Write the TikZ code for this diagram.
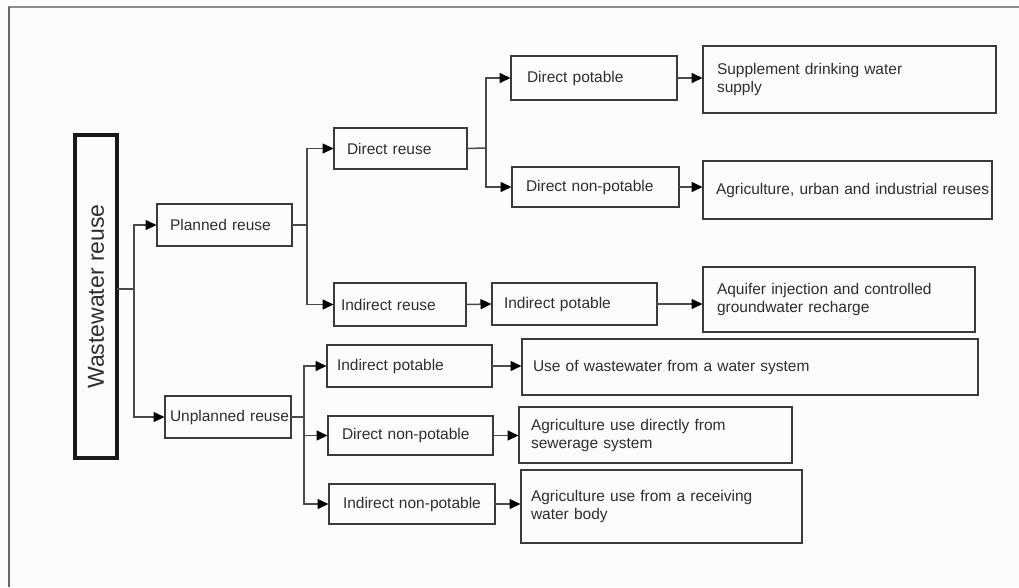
\documentclass[tikz,border=0pt]{standalone}
\usepackage{fontspec}
\setmainfont{Liberation Sans}
\usetikzlibrary{arrows.meta}

\definecolor{ink}{HTML}{2E2E2E}
\definecolor{edge}{HTML}{3A3A3A}
\definecolor{wire}{HTML}{4A4A4A}
\definecolor{paper}{HTML}{FCFCFA}

% a box given by its corners (x1,y1)-(x2,y2) and a left text padding
\newcommand\flowbox[7]{%
  \pgfmathsetmacro\flowboxW{#4-#2-2*#6}%
  \pgfmathsetmacro\flowboxH{#5-#3}%
  \node[box, anchor=north west, text width=\flowboxW pt, inner xsep=#6pt,
        minimum height=\flowboxH pt] (#1) at (#2,#3) {#7};}

\begin{document}
\begin{tikzpicture}[x=1pt, y=-1pt,
  box/.style={draw=edge, line width=1.8pt, inner ysep=0pt, outer sep=0pt,
              align=left, text=ink,
              font=\fontsize{15.5}{18}\selectfont},
  bigbox/.style={draw=black!90, line width=3.4pt, inner sep=0pt, outer sep=0pt,
                 text=ink, font=\fontsize{23}{26}\selectfont},
  wire/.style={draw=wire, line width=1.5pt},
  arr/.style={wire, -{Triangle[length=11pt, width=10pt, color=black]}, shorten >=0.5pt},
]
\useasboundingbox (0,0) rectangle (1019,587);
\fill[paper] (0,0) rectangle (1019,587);

% page frame
\draw[draw=black!45, line width=1.4pt] (8,7) -- (1019,7);
\draw[draw=black!60, line width=2pt] (9,7) -- (9,587);

% root
\node[bigbox, rotate=90, minimum width=323pt, minimum height=42pt] (ww) at (96,296.5) {Wastewater reuse};

% second level
\flowbox{pr}{157}{204}{292}{246}{13}{Planned reuse}
\flowbox{ur}{165}{396}{291}{438}{5}{\mbox{Unplanned reuse}}

% planned branch
\flowbox{dr}{334}{128}{467}{169}{13}{Direct reuse}
\flowbox{ir}{334}{283}{466}{326}{7}{Indirect reuse}
\flowbox{dp}{511}{56}{677}{100}{16}{Direct potable}
\flowbox{dn}{512}{167}{679}{207}{14}{Direct non-potable}
\flowbox{ip}{492}{283}{657}{325}{12}{Indirect potable}
\flowbox{sd}{703}{46}{996}{113}{14}{Supplement drinking water\\supply}
\flowbox{au}{703}{161}{992}{219}{13}{\mbox{Agriculture, urban and industrial reuses}}
\flowbox{aq}{703}{267}{975}{332}{14}{Aquifer injection and controlled\\groundwater recharge}

% unplanned branch
\flowbox{up}{327}{345}{492}{387}{10}{Indirect potable}
\flowbox{un}{328}{416}{493}{455}{14}{Direct non-potable}
\flowbox{in}{329}{484}{495}{524}{14}{Indirect non-potable}
\flowbox{uw}{522}{339}{978}{395}{11}{Use of wastewater from a water system}
\flowbox{ad}{519}{407}{792}{463}{12}{Agriculture use directly from\\sewerage system}
\flowbox{ar}{521}{470}{802}{543}{10}{Agriculture use from a receiving\\water body}

% junctions
\coordinate (j0) at (134,289);
\coordinate (j1) at (307,225);
\coordinate (j2) at (486,148);
\coordinate (j3) at (304,417);

% root split
\draw[wire] (ww.south |- j0) -- (j0);
\draw[arr] (j0) |- (pr);
\draw[arr] (j0) |- (ur);

% planned split
\draw[wire] (pr.east) -- (j1);
\draw[arr] (j1) |- (dr);
\draw[arr] (j1) |- (ir);

% direct reuse split
\draw[wire] (dr.east) -- (j2);
\draw[arr] (j2) |- (dp);
\draw[arr] (j2) |- (dn);

% planned chains
\draw[arr] (ir.east) -- (ip.west);
\draw[arr] (dp.east) -- (dp.east -| sd.west);
\draw[arr] (dn.east) -- (dn.east -| au.west);
\draw[arr] (ip.east) -- (ip.east -| aq.west);

% unplanned split
\draw[wire] (ur.east) -- (j3);
\draw[arr] (j3) |- (up);
\draw[arr] (j3) |- (un);
\draw[arr] (j3) |- (in);

% unplanned chains
\draw[arr] (up.east) -- (up.east -| uw.west);
\draw[arr] (un.east) -- (un.east -| ad.west);
\draw[arr] (in.east) -- (in.east -| ar.west);
\end{tikzpicture}
\end{document}
